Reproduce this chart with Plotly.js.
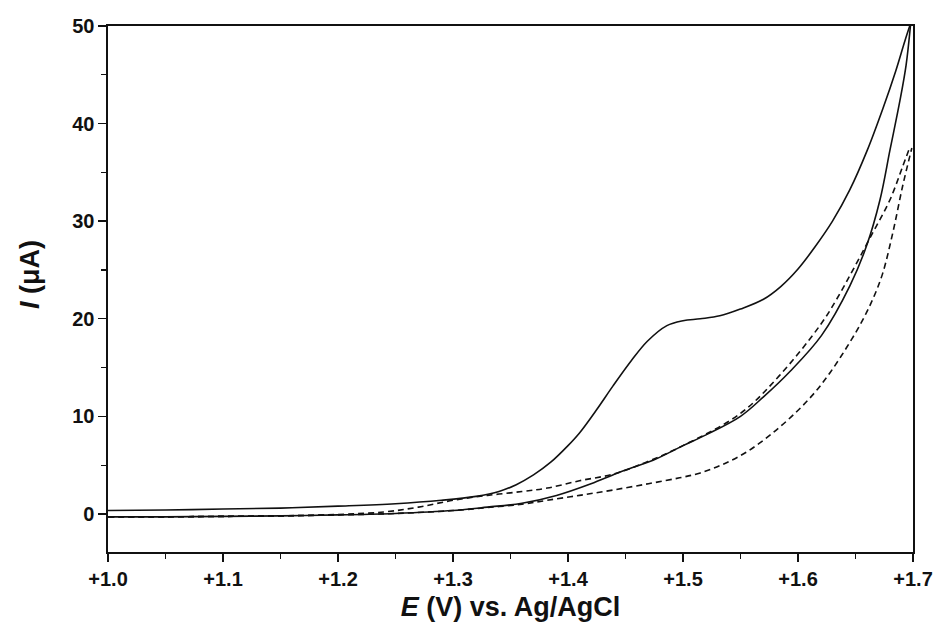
<!DOCTYPE html>
<html>
<head>
<meta charset="utf-8">
<script src="https://cdn.plot.ly/plotly-3.0.1.min.js"></script>
<style>html,body{margin:0;padding:0;background:#fff;}#chart{width:937px;height:628px;}</style>
</head>
<body>
<div id="chart"></div>
<script>
// Sample CV, forward scan (solid, upper, with shoulder)
const sampleFwdE = [1.00,1.05,1.10,1.15,1.20,1.25,1.29,1.32,1.34,1.355,1.37,1.385,1.40,1.41,1.425,1.439,1.455,1.469,1.486,1.50,1.515,1.532,1.55,1.57,1.585,1.60,1.615,1.63,1.645,1.66,1.674,1.685,1.693,1.698];
const sampleFwdI = [0.35,0.4,0.5,0.6,0.8,1.05,1.4,1.8,2.3,3.0,4.0,5.3,7.0,8.3,10.7,13.1,15.7,17.7,19.3,19.8,20.0,20.3,21.0,22.0,23.3,25.1,27.4,30.0,33.2,37.2,41.6,45.4,48.5,50.3];
// Sample CV, return scan (solid, lower)
const sampleRevE = [1.00,1.05,1.10,1.15,1.20,1.25,1.30,1.33,1.36,1.39,1.42,1.439,1.45,1.474,1.50,1.52,1.55,1.57,1.593,1.6205,1.6452,1.6597,1.6713,1.680,1.6887,1.694,1.698];
const sampleRevI = [-0.3,-0.3,-0.25,-0.2,-0.1,0.05,0.35,0.7,1.1,1.9,3.1,4.0,4.5,5.5,7.0,8.1,10.0,12.0,14.6,18.3,23.4,27.5,32.2,37.3,42.4,46.0,50.3];
// Blank CV, upper dashed branch
const blankUpE = [1.00,1.05,1.10,1.15,1.20,1.24,1.27,1.30,1.33,1.36,1.382,1.41,1.44,1.47,1.50,1.55,1.584,1.619,1.6336,1.6654,1.680,1.691,1.697];
const blankUpI = [-0.3,-0.3,-0.25,-0.2,-0.05,0.2,0.7,1.4,1.9,2.3,2.65,3.4,4.1,5.4,7.0,10.3,14.2,19.3,22.0,28.9,32.2,35.6,37.5];
// Blank CV, lower dashed branch
const blankLoE = [1.00,1.05,1.10,1.15,1.20,1.25,1.30,1.33,1.36,1.382,1.41,1.439,1.47,1.497,1.515,1.535,1.556,1.578,1.599,1.615,1.628,1.642,1.655,1.665,1.6735,1.6826,1.691,1.699];
const blankLoI = [-0.3,-0.3,-0.25,-0.2,-0.1,0.05,0.35,0.65,1.0,1.4,1.9,2.45,3.1,3.7,4.2,5.1,6.4,8.3,10.5,12.5,14.5,17.0,19.6,22.0,24.6,28.9,33.6,37.5];

const xTickVals = [1.0,1.1,1.2,1.3,1.4,1.5,1.6,1.7];
const xTickText = ["+1.0","+1.1","+1.2","+1.3","+1.4","+1.5","+1.6","+1.7"];
const yTickVals = [0,10,20,30,40,50];

const solid = {color:'#111', width:1.6, shape:'spline', smoothing:1};
const dashed = {color:'#111', width:1.6, shape:'spline', smoothing:1, dash:'6px,4px'};

const traces = [
  {x: sampleFwdE, y: sampleFwdI, mode:'lines', line: solid, name:'sample fwd'},
  {x: sampleRevE, y: sampleRevI, mode:'lines', line: solid, name:'sample rev'},
  {x: blankUpE, y: blankUpI, mode:'lines', line: dashed, name:'blank up'},
  {x: blankLoE, y: blankLoI, mode:'lines', line: dashed, name:'blank lo'}
];

const font = "Liberation Sans, Arial, sans-serif";
const layout = {
  width: 937, height: 628,
  margin: {l:108, r:24, t:26, b:76},
  paper_bgcolor:'#fff', plot_bgcolor:'#fff',
  showlegend:false,
  font:{family:font, color:'#111'},
  xaxis:{
    range:[1.0,1.7], showgrid:false, zeroline:false,
    showline:true, linecolor:'#111', linewidth:1.6, mirror:true,
    ticks:'outside', ticklen:8, tickwidth:1.4, tickcolor:'#111',
    tickvals:xTickVals, ticktext:xTickText,
    tickfont:{family:font, size:20, weight:'bold', color:'#111'},
    minor:{dtick:0.05, tick0:1.0, ticks:'outside', ticklen:5, tickwidth:1.2, tickcolor:'#111', showgrid:false},
    title:{text:'<b><i>E</i> (V) vs. Ag/AgCl</b>', font:{family:font, size:27, color:'#111'}, standoff:8}
  },
  yaxis:{
    range:[-3.9,50], showgrid:false, zeroline:false,
    showline:true, linecolor:'#111', linewidth:1.6, mirror:true,
    ticks:'outside', ticklen:8, tickwidth:1.4, tickcolor:'#111',
    tickvals:yTickVals,
    tickfont:{family:font, size:20, weight:'bold', color:'#111'},
    minor:{dtick:5, tick0:0, ticks:'outside', ticklen:5, tickwidth:1.2, tickcolor:'#111', showgrid:false}
  },
  annotations:[{
    text:'<b><i>I</i> (μA)</b>', xref:'paper', yref:'paper',
    x:-0.097, y:(552-274)/526, textangle:-90, showarrow:false,
    font:{family:font, size:27, color:'#111'}, xanchor:'center', yanchor:'middle'
  }]
};

Plotly.newPlot('chart', traces, layout, {displayModeBar:false, staticPlot:true});
</script>
</body>
</html>
